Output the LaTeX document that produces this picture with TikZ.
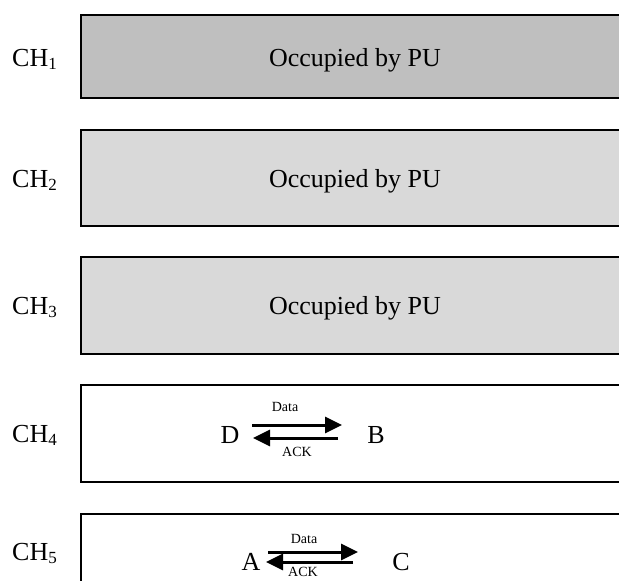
\documentclass[tikz,border=0pt]{standalone}
\usepackage{fontspec}
\setmainfont{Liberation Serif}
\usetikzlibrary{arrows.meta}
\begin{document}
\begin{tikzpicture}[x=1pt,y=-1pt,
  chbox/.style={draw=black,line width=2pt},
  big/.style={anchor=base,inner sep=0pt,font=\fontsize{26}{30}\selectfont},
  chlabel/.style={anchor=base west,inner sep=0pt,font=\fontsize{26}{30}\selectfont},
  small/.style={anchor=base,inner sep=0pt,font=\fontsize{14}{16}\selectfont},
  flow/.style={line width=3pt,-{Triangle[length=17pt,width=16pt]}}]
\useasboundingbox (0,0) rectangle (619,581);
% channel boxes
\draw[chbox,fill=black!25] (81,15) rectangle (640,98);
\draw[chbox,fill=black!15] (81,130) rectangle (640,226);
\draw[chbox,fill=black!15] (81,257) rectangle (640,354);
\draw[chbox,fill=white] (81,385) rectangle (640,482);
\draw[chbox,fill=white] (81,514) rectangle (640,640);
% channel labels
\node[chlabel] (ch1) at (12,66.6) {CH\raisebox{-3pt}{\fontsize{17}{20}\selectfont 1}};
\node[chlabel] (ch2) at (12,187.6) {CH\raisebox{-3pt}{\fontsize{17}{20}\selectfont 2}};
\node[chlabel] (ch3) at (12,314.6) {CH\raisebox{-3pt}{\fontsize{17}{20}\selectfont 3}};
\node[chlabel] (ch4) at (12,442.6) {CH\raisebox{-3pt}{\fontsize{17}{20}\selectfont 4}};
\node[chlabel] (ch5) at (12,560.6) {CH\raisebox{-3pt}{\fontsize{17}{20}\selectfont 5}};
% occupied texts
\node[big] (o1) at (355,66) {Occupied by PU};
\node[big] (o2) at (355,187) {Occupied by PU};
\node[big] (o3) at (355,314) {Occupied by PU};
% CH4
\node[big] (D) at (230,443.6) {D};
\node[big] (B) at (376,443.6) {B};
\node[small] (data4) at (285,411.6) {Data};
\node[small] (ack4) at (297,456.6) {ACK};
\coordinate (d4s) at (252,425);
\coordinate (d4e) at (342,425);
\coordinate (a4s) at (338,438);
\coordinate (a4e) at (253,438);
\draw[flow] (d4s) -- (d4e);
\draw[flow] (a4s) -- (a4e);
% CH5
\node[big] (A) at (251,570.6) {A};
\node[big] (C) at (401,570.6) {C};
\node[small] (data5) at (304,543.6) {Data};
\node[small] (ack5) at (303,576.6) {ACK};
\coordinate (d5s) at (268,552);
\coordinate (d5e) at (358,552);
\coordinate (a5s) at (353,562);
\coordinate (a5e) at (266,562);
\draw[flow] (d5s) -- (d5e);
\draw[flow] (a5s) -- (a5e);
\end{tikzpicture}
\end{document}
